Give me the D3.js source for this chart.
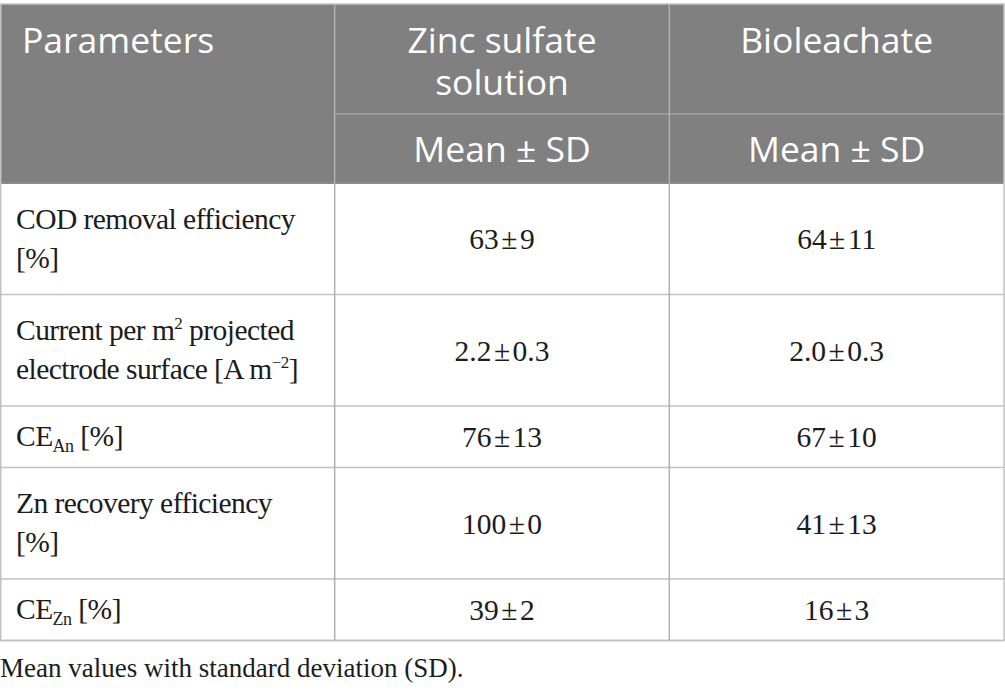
<!DOCTYPE html>
<html>
<head>
<meta charset="utf-8">
<script src="https://cdn.jsdelivr.net/npm/d3@7"></script>
<style>
  html, body { margin: 0; padding: 0; background: #fff; }
  svg { display: block; }
</style>
</head>
<body>
<script>
// table content
const headers = [["Parameters"], ["Zinc sulfate", "solution"], ["Bioleachate"]];
const subHeader = "Mean \u00b1 SD";
const params = [
  ["COD removal efficiency", "[%]"],
  ["Current per m^{2} projected", "electrode surface [A m^{\u22122}]"],
  ["CE_{An} [%]"],
  ["Zn recovery efficiency", "[%]"],
  ["CE_{Zn} [%]"]
];
const zincMean = ["63", "2.2", "76", "100", "39"];
const zincSD = ["9", "0.3", "13", "0", "2"];
const bioMean = ["64", "2.0", "67", "41", "16"];
const bioSD = ["11", "0.3", "10", "13", "3"];
const caption = "Mean values with standard deviation (SD).";

const w = 1005, h = 692;
const tableTop = 4, subTop = 114, headBottom = 183;
const lineColor = "#c2c2c2";
const headFill = "#7f807f";
const sansFont = "'Open Sans', 'Noto Sans', sans-serif";
const serifFont = "'Liberation Serif', 'DejaVu Serif', serif";

const svg = d3.select("body").append("svg")
  .attr("width", w)
  .attr("height", h);

const x = d3.scaleBand()
  .domain(d3.range(3))
  .range([0, 1004]);

// row heights follow the number of label lines
const rowH = params.map(p => p.length === 2 ? 111.5 : 61.5);
const rowY = [headBottom, ...d3.cumsum(rowH).map(v => headBottom + v)];

// rich text: ^{..} superscript, _{..} subscript
function richText(sel, str) {
  const parts = str.split(/(\^\{[^}]*\}|_\{[^}]*\})/).filter(s => s);
  let shift = 0;
  parts.forEach(p => {
    let t = p, target = 0, size = null;
    if (p.startsWith("^{")) { t = p.slice(2, -1); target = -11; size = 17; }
    else if (p.startsWith("_{")) { t = p.slice(2, -1); target = 6; size = 18; }
    const ts = sel.append("tspan").attr("dy", target - shift).text(t);
    if (size) ts.attr("font-size", size);
    shift = target;
  });
}

// header background
svg.append("rect")
  .attr("x", 0).attr("y", tableTop)
  .attr("width", 1004).attr("height", headBottom - tableTop)
  .attr("fill", headFill);

// header texts
const headG = svg.append("g")
  .attr("font-family", sansFont)
  .attr("font-size", 35.5)
  .attr("fill", "#fff");

headers.forEach((lines, i) => {
  const t = headG.append("text")
    .attr("text-anchor", i === 0 ? "start" : "middle");
  lines.forEach((l, j) => {
    t.append("tspan")
      .attr("x", i === 0 ? 22 : x(i) + x.bandwidth() / 2)
      .attr("y", tableTop + 49 + j * 42)
      .text(l);
  });
});

[1, 2].forEach(i => {
  headG.append("text")
    .attr("text-anchor", "middle")
    .attr("x", x(i) + x.bandwidth() / 2)
    .attr("y", subTop + 48)
    .text(subHeader);
});

// header inner lines
svg.append("line")
  .attr("x1", x(1)).attr("x2", 1004)
  .attr("y1", subTop).attr("y2", subTop)
  .attr("stroke", "#a3a3a3").attr("stroke-width", 1.5);

svg.append("line")
  .attr("x1", 0).attr("x2", 1004)
  .attr("y1", headBottom).attr("y2", headBottom)
  .attr("stroke", "#8a8a8a").attr("stroke-width", 2);

// body rows
const body = svg.append("g")
  .attr("font-family", serifFont)
  .attr("font-size", 29.5)
  .attr("fill", "#1c1c1c");

params.forEach((lines, r) => {
  const cy = (rowY[r] + rowY[r + 1]) / 2;
  const t = body.append("text").attr("letter-spacing", "-0.55px");
  lines.forEach((l, j) => {
    const ln = t.append("tspan")
      .attr("x", 16)
      .attr("y", cy + 9.5 + (j - (lines.length - 1) / 2) * 39);
    richText(ln, l);
  });

  [[zincMean, zincSD], [bioMean, bioSD]].forEach(([m, s], c) => {
    body.append("text")
      .attr("text-anchor", "middle")
      .attr("x", x(c + 1) + x.bandwidth() / 2)
      .attr("y", cy + 10.5)
      .text(m[r] + "\u200a\u00b1\u200a" + s[r]);
  });
});

// grid lines
const grid = svg.append("g")
  .attr("stroke", lineColor)
  .attr("stroke-width", 1.5)
  .attr("fill", "none");

rowY.slice(1).forEach(y => {
  grid.append("line")
    .attr("x1", 0).attr("x2", 1004)
    .attr("y1", y).attr("y2", y);
});

[1, 2].forEach(i => {
  grid.append("line")
    .attr("x1", x(i)).attr("x2", x(i))
    .attr("y1", tableTop).attr("y2", rowY[rowY.length - 1])
    .attr("stroke", "#b0b0b0");
});

grid.append("rect")
  .attr("x", 0.75).attr("y", tableTop)
  .attr("width", 1003.25).attr("height", rowY[rowY.length - 1] - tableTop);

// caption
svg.append("text")
  .attr("x", 0)
  .attr("y", 677)
  .attr("font-family", serifFont)
  .attr("font-size", 27)
  .attr("fill", "#1c1c1c")
  .text(caption);
</script>
</body>
</html>
